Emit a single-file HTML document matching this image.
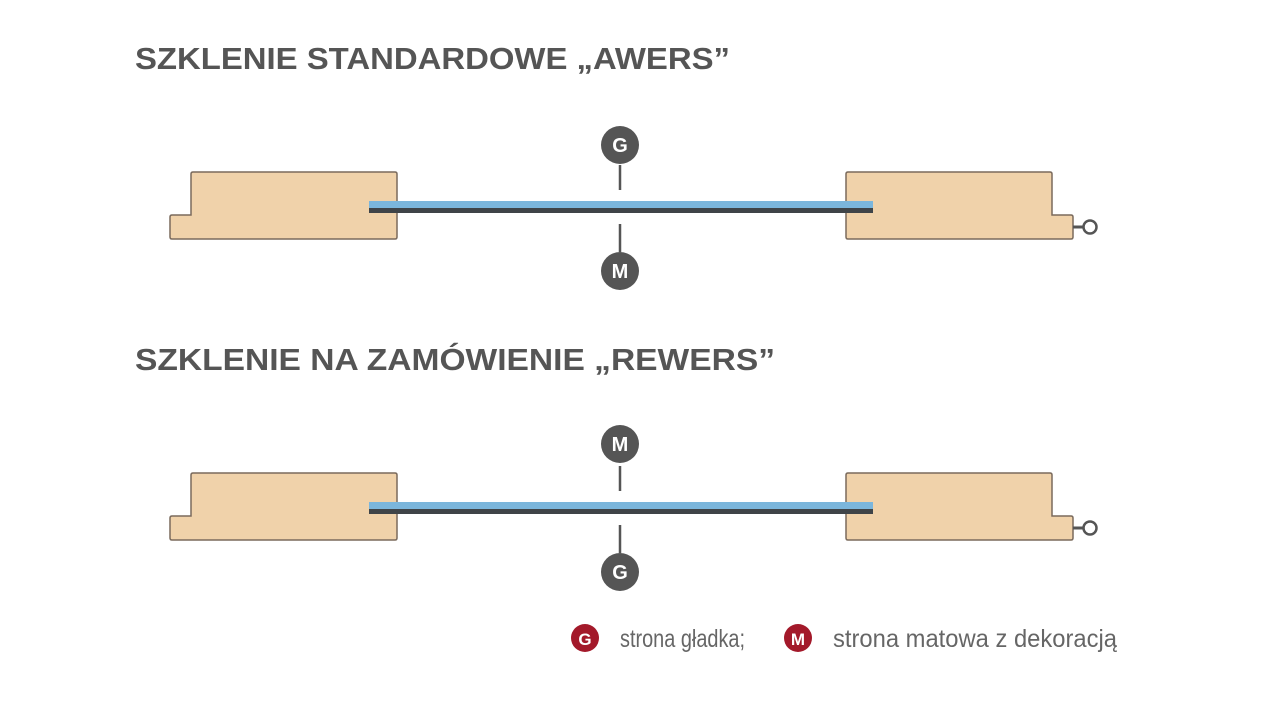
<!DOCTYPE html>
<html><head><meta charset="utf-8"><style>html,body{margin:0;padding:0;background:#fff}svg{display:block}</style></head>
<body>
<svg width="1280" height="720" viewBox="0 0 1280 720" xmlns="http://www.w3.org/2000/svg" font-family="Liberation Sans, sans-serif">
<defs>
<g id="d">
  <path d="M193,172 H395 Q397,172 397,174 V237 Q397,239 395,239 H172 Q170,239 170,237 V217 Q170,215 172,215 H191 V174 Q191,172 193,172 Z" fill="#f0d2aa" stroke="#7a6a5c" stroke-width="1.5"/>
  <path d="M848,172 H1050 Q1052,172 1052,174 V215 H1071 Q1073,215 1073,217 V237 Q1073,239 1071,239 H848 Q846,239 846,237 V174 Q846,172 848,172 Z" fill="#f0d2aa" stroke="#7a6a5c" stroke-width="1.5"/>
  <rect x="369" y="201" width="504" height="7" fill="#7bb6dc"/>
  <rect x="369" y="208" width="504" height="5" fill="#3f4448"/>
  <line x1="1073" y1="227" x2="1083" y2="227" stroke="#555" stroke-width="3"/>
  <circle cx="1090" cy="227" r="6.5" fill="#fff" stroke="#555" stroke-width="2.5"/>
  <line x1="620" y1="165" x2="620" y2="190" stroke="#555" stroke-width="2.5"/>
  <line x1="620" y1="224" x2="620" y2="252" stroke="#555" stroke-width="2.5"/>
</g>
</defs>
<g fill="#555" font-weight="bold" font-size="31">
<text x="135" y="69" textLength="595" lengthAdjust="spacingAndGlyphs">SZKLENIE STANDARDOWE „AWERS”</text>
<text x="135" y="370" textLength="640" lengthAdjust="spacingAndGlyphs">SZKLENIE NA ZAMÓWIENIE „REWERS”</text>
</g>
<use href="#d"/>
<use href="#d" y="301"/>
<g font-weight="bold" font-size="20" fill="#fff" text-anchor="middle">
<circle cx="620" cy="145" r="19" fill="#555"/><text x="620" y="152">G</text>
<circle cx="620" cy="271" r="19" fill="#555"/><text x="620" y="278">M</text>
<circle cx="620" cy="444" r="19" fill="#555"/><text x="620" y="451">M</text>
<circle cx="620" cy="572" r="19" fill="#555"/><text x="620" y="579">G</text>
<circle cx="585" cy="638" r="14" fill="#a3192a"/><text x="585" y="645" font-size="17">G</text>
<circle cx="798" cy="638" r="14" fill="#a3192a"/><text x="798" y="645" font-size="17">M</text>
</g>
<g fill="#666" font-size="25">
<text x="620" y="647" textLength="125" lengthAdjust="spacingAndGlyphs">strona gładka;</text>
<text x="833" y="647" textLength="284" lengthAdjust="spacingAndGlyphs">strona matowa z dekoracją</text>
</g>
</svg>
</body></html>
